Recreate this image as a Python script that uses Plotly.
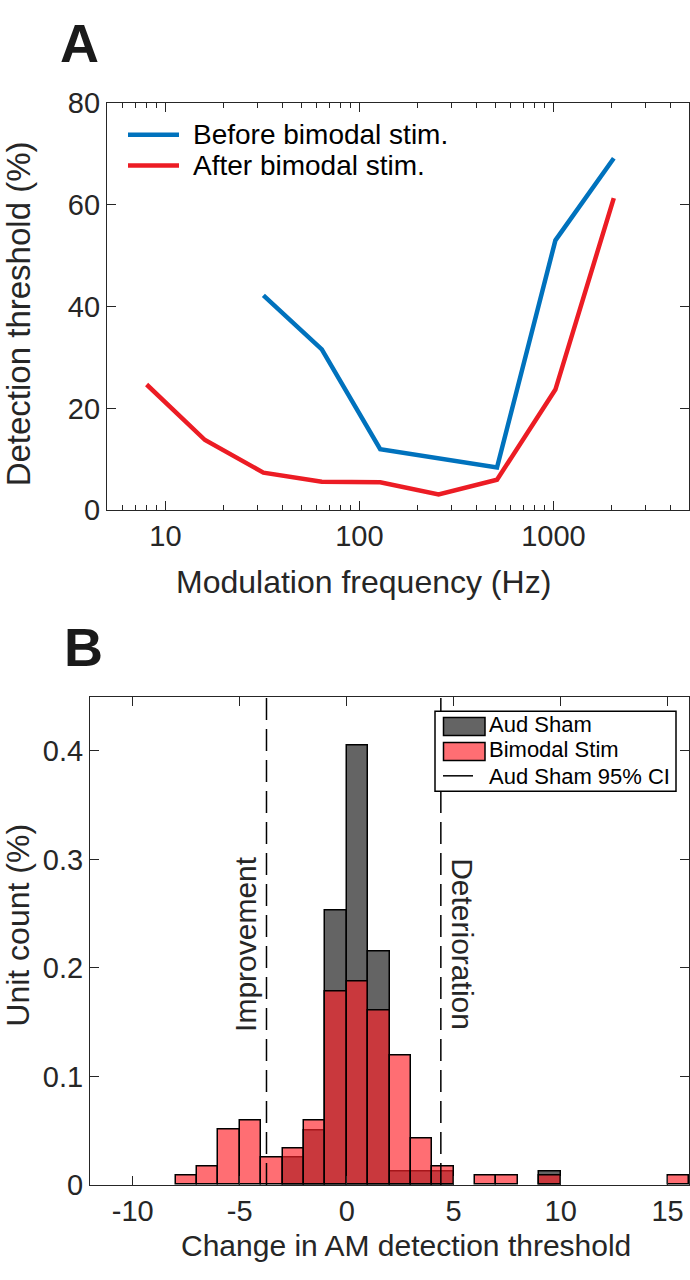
import plotly.graph_objects as go

# ---------------- Panel A data ----------------
freq_before = [32, 64, 128, 256, 512, 1024, 2048]
thr_before = [42.2, 31.6, 12.0, 10.2, 8.4, 53.0, 69.1]
freq_after = [8, 16, 32, 64, 128, 256, 512, 1024, 2048]
thr_after = [24.7, 13.8, 7.4, 5.6, 5.5, 3.1, 6.0, 23.7, 61.3]
a_xticks = [10, 100, 1000]
a_xticklabels = ["10", "100", "1000"]
a_minor = [6, 7, 8, 9, 20, 30, 40, 50, 60, 70, 80, 90, 200, 300, 400, 500, 600, 700,
           800, 900, 2000, 3000, 4000]
a_yticks = [0, 20, 40, 60, 80]

# ---------------- Panel B data ----------------
bin_left = [-8, -7, -6, -5, -4, -3, -2, -1, 0, 1, 2, 3, 4, 5, 6, 7, 8, 9, 10, 11, 12, 13, 14, 15]
sham = [0, 0, 0, 0, 0, 0.0253, 0.0506, 0.253, 0.405, 0.215, 0.0127, 0.0127, 0.0127,
        0, 0, 0, 0, 0.0127, 0, 0, 0, 0, 0, 0]
bimodal = [0.0085, 0.017, 0.051, 0.0595, 0.0254, 0.034, 0.0595, 0.178, 0.187, 0.161,
           0.119, 0.0424, 0.017, 0, 0.0085, 0.0085, 0, 0.0085, 0, 0, 0, 0, 0, 0.0085]
bin_width = 1
ci_bounds = [-3.75, 4.4]
b_xticks = [-10, -5, 0, 5, 10, 15]
b_xticklabels = ["-10", "-5", "0", "5", "10", "15"]
b_yticks = [0, 0.1, 0.2, 0.3, 0.4]
b_yticklabels = ["0", "0.1", "0.2", "0.3", "0.4"]

FONT = "Arial, Liberation Sans, Helvetica, sans-serif"
W, H = 690, 1280
BLUE = "#0072BD"
RED = "#EC1C24"
GRAY = "#646464"
PINK = "rgba(255,32,40,0.65)"
AX = "#262626"

fig = go.Figure()

# Panel A lines
fig.add_trace(go.Scatter(x=freq_before, y=thr_before, mode="lines", name="Before bimodal stim.",
                         line=dict(color=BLUE, width=4.5), xaxis="x", yaxis="y", showlegend=False))
fig.add_trace(go.Scatter(x=freq_after, y=thr_after, mode="lines", name="After bimodal stim.",
                         line=dict(color=RED, width=4.5), xaxis="x", yaxis="y", showlegend=False))

# Panel B bars
def centers(vals):
    xs, ys = [], []
    for e, v in zip(bin_left, vals):
        if v > 0:
            xs.append(e + bin_width / 2)
            ys.append(v)
    return xs, ys

sx, sy = centers(sham)
bx, by = centers(bimodal)
fig.add_trace(go.Bar(x=sx, y=sy, width=bin_width, name="Aud Sham", marker=dict(color=GRAY, line=dict(color="black", width=1.5)),
                     xaxis="x2", yaxis="y2", showlegend=False))
fig.add_trace(go.Bar(x=bx, y=by, width=bin_width, name="Bimodal Stim", marker=dict(color=PINK, line=dict(color="black", width=1.5)),
                     xaxis="x2", yaxis="y2", showlegend=False))

def px_x(p):
    return p / W

def px_y(p):
    return 1 - p / H

# Domains (pixel-measured)
A_L, A_R, A_T, A_B = 107, 689, 89, 507
B_L, B_R, B_T, B_B = 90, 689, 698, 1199

tickfont = dict(family=FONT, size=29, color="#262626")

common = dict(ticks="inside", ticklen=9, tickwidth=1, tickcolor=AX, showline=True, linecolor=AX,
              linewidth=1.2, mirror="ticks", showgrid=False, zeroline=False, tickfont=tickfont)

fig.update_layout(
    width=W, height=H,
    margin=dict(l=0, r=0, t=0, b=0),
    paper_bgcolor="white", plot_bgcolor="white",
    barmode="overlay", bargap=0,
    showlegend=False,
    xaxis=dict(domain=[px_x(A_L), px_x(A_R)], type="log", range=[0.69897, 3.69897],
               tickvals=a_xticks, ticktext=a_xticklabels,
               minor=dict(tickvals=a_minor, ticks="inside", ticklen=5, tickcolor=AX, showgrid=False),
               anchor="y", **common),
    yaxis=dict(domain=[px_y(A_B), px_y(A_T)], range=[0, 80], tickvals=a_yticks, anchor="x", **common),
    xaxis2=dict(domain=[px_x(B_L), px_x(B_R)], range=[-12, 16], tickvals=b_xticks, ticktext=b_xticklabels,
                anchor="y2", **common),
    yaxis2=dict(domain=[px_y(B_B), px_y(B_T)], range=[0, 0.45], tickvals=b_yticks, ticktext=b_yticklabels,
                anchor="x2", **common),
)

shapes = []
# CI dashed lines
for c in ci_bounds:
    shapes.append(dict(type="line", xref="x2", yref="y2", x0=c, x1=c, y0=0, y1=0.45,
                       line=dict(color="black", width=1.5, dash="22px,9px"), layer="above"))

# Panel A legend (custom, paper coords)
shapes.append(dict(type="line", xref="paper", yref="paper", x0=px_x(128), x1=px_x(179),
                   y0=px_y(121.7), y1=px_y(121.7), line=dict(color=BLUE, width=4.5)))
shapes.append(dict(type="line", xref="paper", yref="paper", x0=px_x(128), x1=px_x(179),
                   y0=px_y(153.3), y1=px_y(153.3), line=dict(color=RED, width=4.5)))

# Panel B legend box
shapes.append(dict(type="rect", xref="paper", yref="paper", x0=px_x(435), x1=px_x(676),
                   y0=px_y(795), y1=px_y(713), fillcolor="white", line=dict(color="black", width=1.5),
                   layer="above"))
shapes.append(dict(type="rect", xref="paper", yref="paper", x0=px_x(443.5), x1=px_x(485),
                   y0=px_y(738), y1=px_y(719.5), fillcolor=GRAY, line=dict(color="black", width=1.5),
                   layer="above"))
shapes.append(dict(type="rect", xref="paper", yref="paper", x0=px_x(443.5), x1=px_x(485),
                   y0=px_y(763.5), y1=px_y(745), fillcolor=PINK, line=dict(color="black", width=1.5),
                   layer="above"))
shapes.append(dict(type="line", xref="paper", yref="paper", x0=px_x(443), x1=px_x(473),
                   y0=px_y(779.3), y1=px_y(779.3), line=dict(color="black", width=1.5), layer="above"))
fig.update_layout(shapes=shapes)

def txt(text, x, y, size, angle=0, xanchor="center", color="#262626"):
    return dict(text=text, x=px_x(x), y=px_y(y), xref="paper", yref="paper", xanchor=xanchor,
                yanchor="middle", textangle=angle, showarrow=False,
                font=dict(family=FONT, size=size, color=color))

ann = []
# axis titles
ann.append(txt("Modulation frequency (Hz)", 363, 580, 32))
ann.append(txt("Detection threshold (%)", 18, 306, 33, angle=-90))
ann.append(txt("Change in AM detection threshold", 406, 1261, 30))
ann.append(txt("Unit count (%)", 18, 933, 32, angle=-90))
# legends
ann.append(txt("Before bimodal stim.", 191, 121.7, 28, xanchor="left", color="black"))
ann.append(txt("After bimodal stim.", 191, 153.3, 28, xanchor="left", color="black"))
for t, yc in [("Aud Sham", 727), ("Bimodal Stim", 752), ("Aud Sham 95% CI", 779.5)]:
    ann.append(txt(t, 487, yc, 22, xanchor="left", color="black"))
# region labels
ann.append(dict(text="Improvement", x=-4.76, y=0.222, xref="x2", yref="y2", textangle=-90,
                showarrow=False, font=dict(family=FONT, size=30, color="#262626")))
ann.append(dict(text="Deterioration", x=5.43, y=0.222, xref="x2", yref="y2", textangle=90,
                showarrow=False, font=dict(family=FONT, size=30, color="#262626")))
# panel letters
ann.append(txt("<b>A</b>", 58, 28, 54, xanchor="left", color="#1a1a1a"))
ann.append(txt("<b>B</b>", 62, 647, 54, xanchor="left", color="#1a1a1a"))
fig.update_layout(annotations=ann)

fig.write_html("out.html", config={"displayModeBar": False},
               post_script="document.body.style.margin='0';document.body.style.overflow='hidden';")
